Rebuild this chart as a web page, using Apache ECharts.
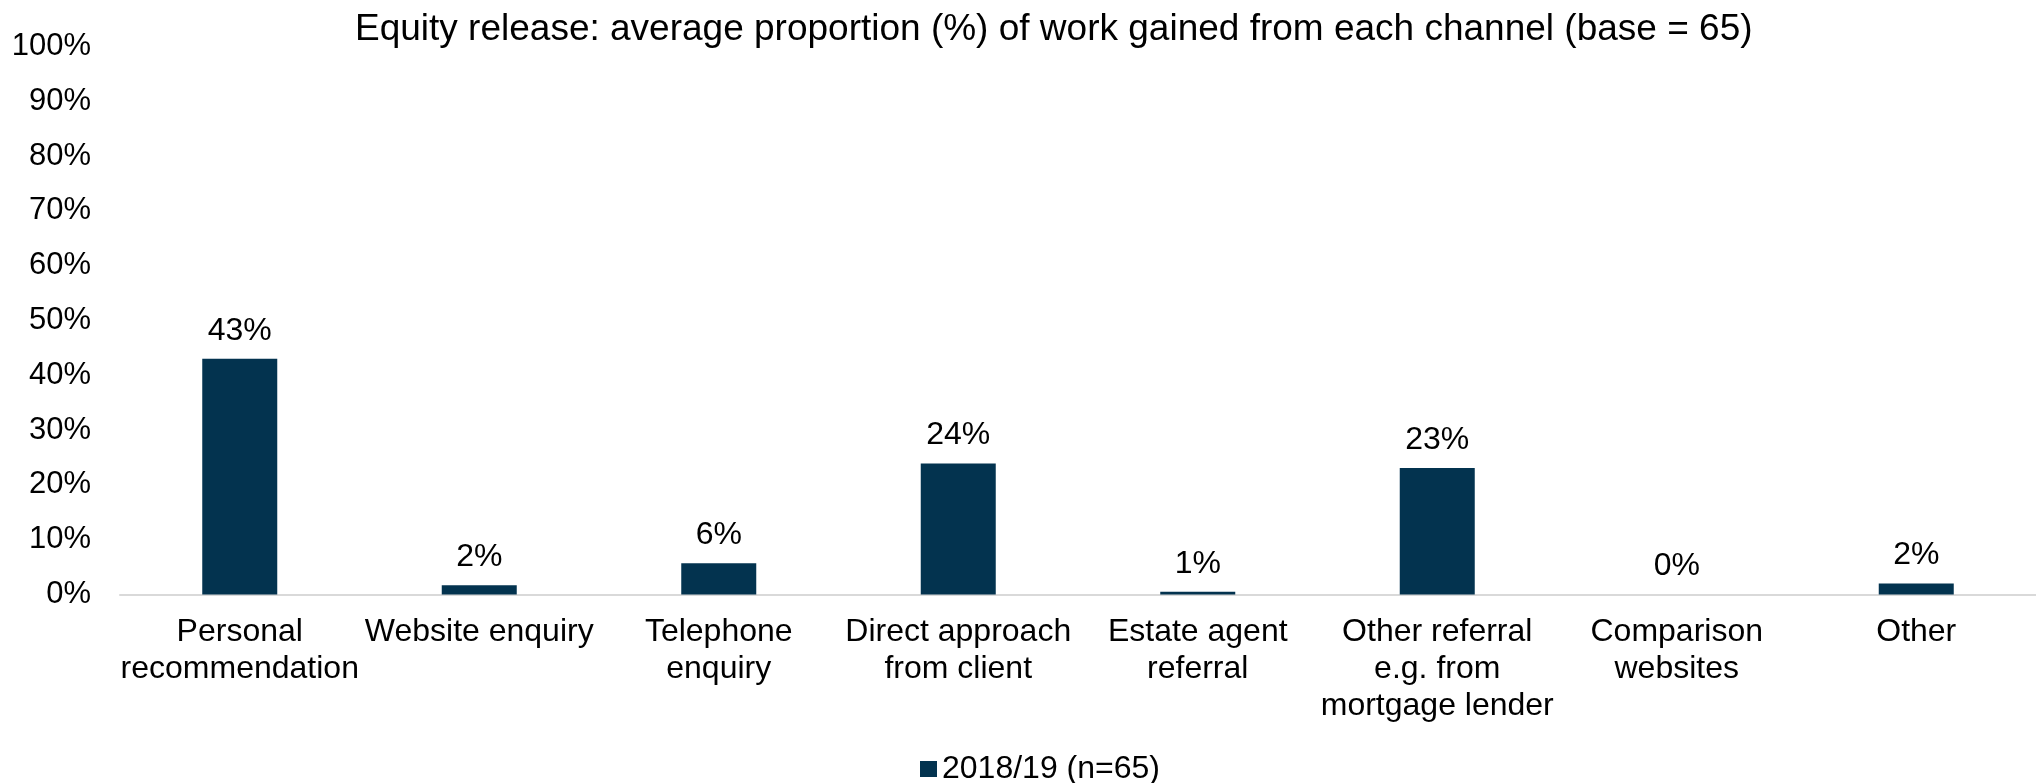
<!DOCTYPE html>
<html>
<head>
<meta charset="utf-8">
<title>Equity release channels</title>
<script src="https://cdn.jsdelivr.net/npm/echarts@6/dist/echarts.min.js"></script>
<style>
  html, body { margin: 0; padding: 0; background: #ffffff; }
  #chart { width: 2036px; height: 783px; }
</style>
</head>
<body>
<div id="chart"></div>
<script>
// Channel categories (axis labels, with line breaks as displayed)
const categories = [
  'Personal\nrecommendation',
  'Website enquiry',
  'Telephone\nenquiry',
  'Direct approach\nfrom client',
  'Estate agent\nreferral',
  'Other referral\ne.g. from\nmortgage lender',
  'Comparison\nwebsites',
  'Other'
];

// Average proportion (%) of work gained from each channel, 2018/19
const seriesName = '2018/19 (n=65)';
const shares = [43.0, 1.7, 5.7, 23.9, 0.5, 23.1, 0.0, 2.0];

// Value axis ticks
const yTicks = { min: 0, max: 100, interval: 10 };

const titleText = 'Equity release: average proportion (%) of work gained from each channel (base = 65)';

const FONT = 'Liberation Sans, Arial, sans-serif';
const BAR = '#03334F';

const chart = echarts.init(document.getElementById('chart'), null, { renderer: 'canvas' });

chart.setOption({
  backgroundColor: '#ffffff',
  animation: false,
  title: {
    text: titleText,
    left: 355,
    top: 11,
    padding: 0,
    textStyle: { fontFamily: FONT, fontSize: 37, fontWeight: 'normal', color: '#000000' }
  },
  legend: {
    data: [seriesName],
    left: 920,
    top: 753,
    padding: 0,
    icon: 'rect',
    itemWidth: 17,
    itemHeight: 16,
    itemGap: 10,
    textStyle: { fontFamily: FONT, fontSize: 32, color: '#000000' }
  },
  grid: {
    left: 120,
    right: -11,
    top: 46.5,
    bottom: 188.5,
    containLabel: false
  },
  xAxis: {
    type: 'category',
    data: categories,
    axisTick: { show: false },
    axisLine: { show: true, lineStyle: { color: '#d9d9d9', width: 2 } },
    axisLabel: {
      interval: 0,
      margin: 19,
      fontFamily: FONT,
      fontSize: 32,
      lineHeight: 37,
      color: '#000000',
      align: 'center'
    }
  },
  yAxis: {
    type: 'value',
    min: yTicks.min,
    max: yTicks.max,
    interval: yTicks.interval,
    axisLine: { show: false },
    axisTick: { show: false },
    splitLine: { show: false },
    axisLabel: {
      margin: 29,
      fontFamily: FONT,
      fontSize: 31,
      color: '#000000',
      formatter: '{value}%'
    }
  },
  series: [{
    name: seriesName,
    type: 'bar',
    data: shares,
    barWidth: 75,
    itemStyle: { color: BAR },
    label: {
      show: true,
      position: 'top',
      distance: 12,
      fontFamily: FONT,
      fontSize: 32,
      color: '#000000',
      formatter: p => Math.round(p.value) + '%'
    }
  }]
});
</script>
</body>
</html>
